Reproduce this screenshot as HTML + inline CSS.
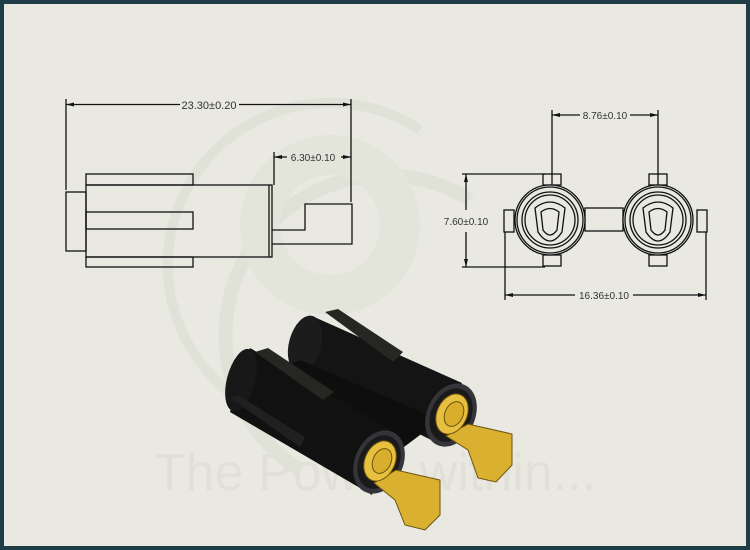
<!DOCTYPE html>
<html><head><meta charset="utf-8"><style>
html,body{margin:0;padding:0;}
body{width:750px;height:550px;overflow:hidden;background:#1d3b44;}
svg{display:block}
</style></head><body>
<svg width="750" height="550" viewBox="0 0 750 550" xmlns="http://www.w3.org/2000/svg" font-family="Liberation Sans, sans-serif">
<rect x="0" y="0" width="750" height="550" fill="#1f3d46"/>
<rect x="4" y="4" width="742" height="542" fill="#e9e9e1"/>
<g fill="none" stroke="#e0e1d7">
<path d="M 300 470 A 140 140 0 1 1 470 200" stroke-width="14"/>
<path d="M 240 400 A 110 110 0 0 1 420 130" stroke-width="10"/>
<circle cx="330" cy="225" r="70" stroke-width="40" stroke="#e3e4da"/>
</g>
<text x="375" y="490" text-anchor="middle" font-size="52" fill="#e0e0d8">The Power within...</text>
<g fill="none" stroke="#111" stroke-width="1.3">
<line x1="66" y1="99" x2="66" y2="190"/>
<line x1="351" y1="99" x2="351" y2="202"/>
<line x1="66" y1="104.5" x2="180" y2="104.5"/>
<line x1="239" y1="104.5" x2="351" y2="104.5"/>
<line x1="274" y1="152" x2="274" y2="185"/>
<line x1="274" y1="157" x2="287" y2="157"/>
<line x1="341" y1="157" x2="351" y2="157"/>
<rect x="66" y="192" width="20" height="59"/>
<rect x="86" y="174" width="107" height="11"/>
<rect x="86" y="185" width="186" height="72"/>
<line x1="269" y1="185" x2="269" y2="257"/>
<rect x="86" y="212" width="107" height="17"/>
<rect x="86" y="257" width="107" height="10"/>
<polyline points="272,230 305,230 305,204 352,204 352,244 272,244"/>
</g>
<g fill="#111"><path d="M66 104.5 l8 -2 v4z"/><path d="M351 104.5 l-8 -2 v4z"/><path d="M274 157 l8 -2 v4z"/><path d="M351 157 l-8 -2 v4z"/></g>
<text x="209" y="109" text-anchor="middle" font-size="11" fill="#333">23.30±0.20</text>
<text x="313" y="161" text-anchor="middle" font-size="10" fill="#333">6.30±0.10</text>
<g fill="none" stroke="#111" stroke-width="1.3">
<line x1="552" y1="110" x2="552" y2="220"/>
<line x1="658" y1="110" x2="658" y2="220"/>
<line x1="552" y1="115" x2="580" y2="115"/>
<line x1="630" y1="115" x2="658" y2="115"/>
<line x1="462" y1="174" x2="545" y2="174"/>
<line x1="462" y1="267" x2="545" y2="267"/>
<line x1="466" y1="174" x2="466" y2="210"/>
<line x1="466" y1="232" x2="466" y2="267"/>
<line x1="505" y1="232" x2="505" y2="300"/>
<line x1="706" y1="232" x2="706" y2="300"/>
<line x1="505" y1="295" x2="575" y2="295"/>
<line x1="633" y1="295" x2="706" y2="295"/>
<rect x="585" y="208" width="38" height="23" fill="#e9e9e1"/>
<rect x="504" y="210" width="10" height="22"/><rect x="697" y="210" width="10" height="22"/>
<rect x="543" y="174" width="18" height="11"/><rect x="543" y="255" width="18" height="11"/>
<rect x="649" y="174" width="18" height="11"/><rect x="649" y="255" width="18" height="11"/>
<circle cx="550" cy="220" r="35" fill="#e9e9e1"/><circle cx="550" cy="220" r="33"/><circle cx="550" cy="220" r="28"/><circle cx="550" cy="220" r="25"/>
<circle cx="658" cy="220" r="35" fill="#e9e9e1"/><circle cx="658" cy="220" r="33"/><circle cx="658" cy="220" r="28"/><circle cx="658" cy="220" r="25"/>
<path d="M535 208 Q550 196 565 208 L562 232 Q550 250 538 232 Z"/>
<path d="M541 212 Q550 205 559 212 L557 230 Q550 240 543 230 Z"/>
<path d="M643 208 Q658 196 673 208 L670 232 Q658 250 646 232 Z"/>
<path d="M649 212 Q658 205 667 212 L665 230 Q658 240 651 230 Z"/>
</g>
<g fill="#111"><path d="M552 115 l8 -2 v4z"/><path d="M658 115 l-8 -2 v4z"/><path d="M466 174 l-2 8 h4z"/><path d="M466 267 l-2 -8 h4z"/><path d="M505 295 l8 -2 v4z"/><path d="M706 295 l-8 -2 v4z"/></g>
<text x="605" y="119" text-anchor="middle" font-size="10" fill="#333">8.76±0.10</text>
<text x="466" y="225" text-anchor="middle" font-size="10" fill="#333">7.60±0.10</text>
<text x="604" y="299" text-anchor="middle" font-size="10" fill="#333">16.36±0.10</text>
<g>
<polygon points="312,316 462,383 445,447 297,372" fill="#141414"/>
<ellipse cx="305" cy="344" rx="16" ry="29" transform="rotate(15 305 344)" fill="#1c1c1c"/>
<polygon points="325,312 338,309 403,352 393,362" fill="#262622"/>
<polygon points="300,360 440,420 400,450 265,375" fill="#0e0e0e"/>
<ellipse cx="451" cy="415" rx="24" ry="33" transform="rotate(25 451 415)" fill="#34343a"/>
<ellipse cx="451" cy="415" rx="20" ry="28" transform="rotate(25 451 415)" fill="#1a1a1a"/>
<polygon points="446,436 468,424 512,434 512,465 496,482 478,478 468,450" fill="#d9b030" stroke="#6b5210" stroke-width="1"/>
<ellipse cx="452" cy="414" rx="15" ry="21" transform="rotate(25 452 414)" fill="#e8c040" stroke="#6b5210"/>
<ellipse cx="454" cy="414" rx="9" ry="13" transform="rotate(25 454 414)" fill="#d8ae2c" stroke="#6b5210"/>
<polygon points="250,348 388,428 372,495 230,412" fill="#111"/>
<ellipse cx="241" cy="380" rx="14" ry="32" transform="rotate(15 241 380)" fill="#181818"/>
<polygon points="255,352 268,348 334,392 323,400" fill="#262622"/>
<polygon points="230,398 238,395 305,437 300,447" fill="#202020"/>
<ellipse cx="379" cy="462" rx="24" ry="33" transform="rotate(25 379 462)" fill="#34343a"/>
<ellipse cx="379" cy="462" rx="20" ry="28" transform="rotate(25 379 462)" fill="#1a1a1a"/>
<polygon points="374,483 396,470 440,480 440,515 425,530 405,525 395,500" fill="#d9b030" stroke="#6b5210" stroke-width="1"/>
<ellipse cx="380" cy="461" rx="15" ry="21" transform="rotate(25 380 461)" fill="#e8c040" stroke="#6b5210"/>
<ellipse cx="382" cy="461" rx="9" ry="13" transform="rotate(25 382 461)" fill="#d8ae2c" stroke="#6b5210"/>
</g>
</svg>
</body></html>
